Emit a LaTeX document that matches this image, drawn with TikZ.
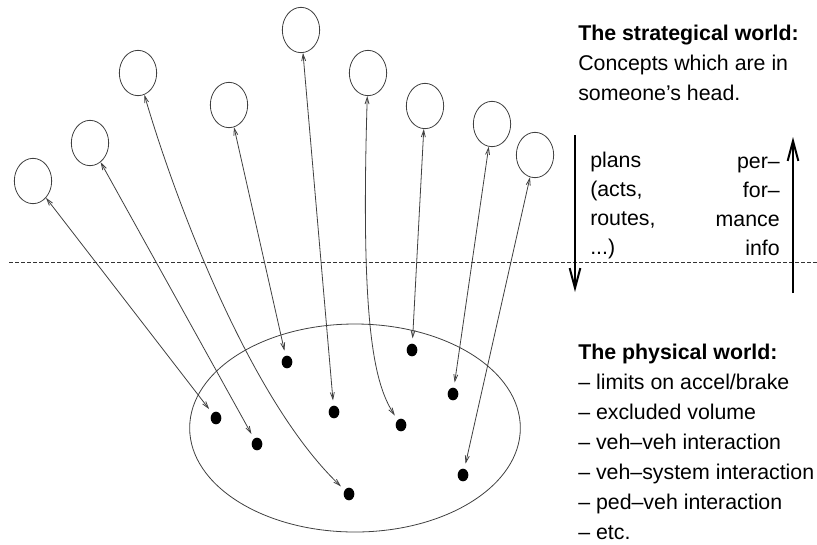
\documentclass[tikz,border=0pt]{standalone}
\usepackage{fontspec}
\setmainfont{Liberation Sans}
\usetikzlibrary{arrows.meta,shapes.geometric}

\tikzset{
  concept/.style={draw=black!75, ellipse, minimum width=28pt, minimum height=34pt, inner sep=0pt, line width=0.6pt},
  agent/.style={fill=black, ellipse, minimum width=8pt, minimum height=9.5pt, inner sep=0pt, outer sep=4pt},
  link/.style={draw=black!75, line width=0.6pt, {Straight Barb[length=5pt,width=3pt]}-{Straight Barb[length=5pt,width=3pt]}},
  flow/.style={line width=1.5pt, -{Straight Barb[length=15pt,width=8pt]}},
  infotext/.style={font=\fontsize{16}{22.5}\selectfont, inner sep=0pt},
}

\begin{document}
\begin{tikzpicture}[x=0.75pt, y=-0.75pt]
    \useasboundingbox (0,0) rectangle (817,544);

    % strategical world: concepts
    \node[concept] (s1) at (33,181) {};
    \node[concept] (s2) at (90,143) {};
    \node[concept] (s3) at (138,73) {};
    \node[concept] (s4) at (229,105) {};
    \node[concept] (s5) at (301,30) {};
    \node[concept] (s6) at (368,73) {};
    \node[concept] (s7) at (425,106) {};
    \node[concept] (s8) at (492,124) {};
    \node[concept] (s9) at (535,155) {};

    % physical world
    \node[draw=black!75, ellipse, line width=0.6pt, minimum width=248pt, minimum height=156pt] (world) at (355,428) {};
    \node[agent] (p1) at (216,418) {};
    \node[agent] (p2) at (257,444) {};
    \node[agent] (p3) at (287,362) {};
    \node[agent] (p4) at (334,412) {};
    \node[agent] (p5) at (349,494) {};
    \node[agent] (p6) at (401,425) {};
    \node[agent] (p7) at (412,350) {};
    \node[agent] (p8) at (453,394) {};
    \node[agent] (p9) at (463,475) {};

    % divider
    \coordinate (divL) at (9,262);
    \coordinate (divR) at (817,262);
    \draw[black!80, line width=0.6pt, dash pattern=on 3pt off 1.5pt] (divL) -- (divR);

    \draw[link] (s1) -- (p1);
    \draw[link] (s2) -- (p2);
    \draw[link] (s3) .. controls (175,200) and (250,400) .. (p5);
    \draw[link] (s4) -- (p3);
    \draw[link] (s5) -- (p4);
    \draw[link] (s6) .. controls (360,330) and (375,385) .. (p6);
    \draw[link] (s7) -- (p7);
    \draw[link] (s8) -- (p8);
    \draw[link] (s9) -- (p9);

    % plans down, performance info up
    \coordinate (planTop) at (575,135);
    \coordinate (planBot) at (575,292);
    \coordinate (perfBot) at (793,293);
    \coordinate (perfTop) at (793,137);
    \draw[flow] (planTop) -- (planBot);
    \draw[flow] (perfBot) -- (perfTop);

    \node[infotext, anchor=north west, align=left] (strat) at (578,25)
        {\textbf{The strategical world:}\\Concepts which are in\\someone’s head.};
    \node[infotext, anchor=north west, align=left, font=\fontsize{16}{21.75}\selectfont] (plans) at (590,152)
        {plans\\(acts,\\routes,\\...)};
    \node[infotext, anchor=north east, align=right, font=\fontsize{16}{21.75}\selectfont] (perf) at (780,157)
        {per–\\for–\\mance\\info};
    \node[infotext, anchor=north west, align=left] (phys) at (578,344)
        {\textbf{The physical world:}\\– limits on accel/brake\\– excluded volume\\– veh–veh interaction\\– veh–system interaction\\– ped–veh interaction\\– etc.};
\end{tikzpicture}
\end{document}
